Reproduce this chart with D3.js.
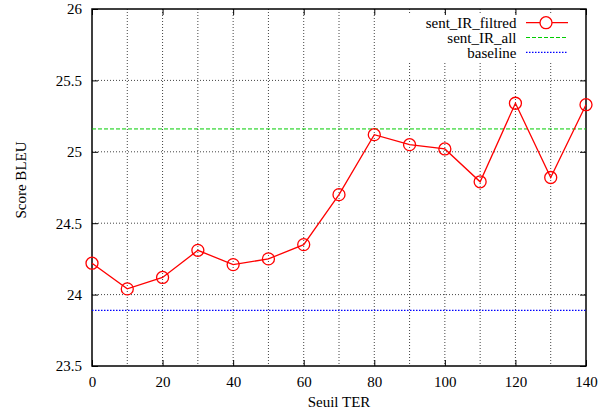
<!DOCTYPE html>
<html><head><meta charset="utf-8">
<script src="https://cdn.jsdelivr.net/npm/d3@7"></script>
<style>body{margin:0;background:#fff}</style>
</head><body><svg id="c" width="598" height="414"></svg>
<script>
const seuil = [0,10,20,30,40,50,60,70,80,90,100,110,120,130,140];
const filtred = [24.22,24.04,24.12,24.31,24.21,24.25,24.35,24.70,25.12,25.05,25.02,24.79,25.34,24.82,25.33];
const allValue = 25.16;
const baselineValue = 23.89;
const xTicks = [0,20,40,60,80,100,120,140];
const xGrid = [0,10,20,30,40,50,60,70,80,90,100,110,120,130,140];
const yTicks = [23.5,24,24.5,25,25.5,26];
const seriesNames = ["sent_IR_filtred","sent_IR_all","baseline"];

const FONT = "'Liberation Serif', 'Times New Roman', serif";
const svg = d3.select("#c").style("font-family",FONT);
const L=92,R=586,T=9,B=366;
const x = d3.scaleLinear().domain([0,140]).range([L,R]);
const y = d3.scaleLinear().domain([23.5,26]).range([B,T]);

// grid
const g = svg.append("g");
g.selectAll(".vg").data(xGrid.filter(d=>d>0&&d<140)).enter().append("line")
 .attr("x1",d=>x(d)).attr("x2",d=>x(d)).attr("y1",T).attr("y2",B)
 .attr("stroke","#444").attr("stroke-width",1).attr("stroke-dasharray","1,2");
g.selectAll(".hg").data(yTicks.filter(d=>d>23.5&&d<26)).enter().append("line")
 .attr("x1",L).attr("x2",R).attr("y1",d=>y(d)).attr("y2",d=>y(d))
 .attr("stroke","#444").attr("stroke-width",1).attr("stroke-dasharray","1,2");

// opaque legend area (covers grid)
svg.append("rect").attr("x",395).attr("y",13.5).attr("width",R-395).attr("height",47.5).attr("fill","#fff");

// axes
const xa = svg.append("g").attr("transform",`translate(0,${B})`)
 .call(d3.axisBottom(x).tickValues(xTicks).tickSize(-6).tickPadding(10.5).tickFormat(d3.format("d")));
const xt = svg.append("g").attr("transform",`translate(0,${T})`)
 .call(d3.axisTop(x).tickValues(xTicks).tickSize(-6).tickFormat(""));
const ya = svg.append("g").attr("transform",`translate(${L},0)`)
 .call(d3.axisLeft(y).tickValues(yTicks).tickSize(-6).tickPadding(10).tickFormat(d=>String(d)));
const yr = svg.append("g").attr("transform",`translate(${R},0)`)
 .call(d3.axisRight(y).tickValues(yTicks).tickSize(-6).tickFormat(""));
[xa,xt,ya,yr].forEach(a=>{a.select(".domain").remove();a.selectAll("line").attr("stroke","#000");
 a.attr("font-family",FONT).attr("font-size",15);
 a.selectAll("text").style("font-family",FONT).style("font-size","15px").attr("fill","#000");});

svg.append("rect").attr("x",L).attr("y",T).attr("width",R-L).attr("height",B-T)
 .attr("fill","none").attr("stroke","#000").attr("stroke-width",1.5);

// horizontal reference lines
svg.append("line").attr("x1",L).attr("x2",R).attr("y1",y(allValue)).attr("y2",y(allValue))
 .attr("stroke","#00cc00").attr("stroke-width",1).attr("stroke-dasharray","4,2");
svg.append("line").attr("x1",L).attr("x2",R).attr("y1",y(baselineValue)).attr("y2",y(baselineValue))
 .attr("stroke","#0000ff").attr("stroke-width",1.2).attr("stroke-dasharray","1.5,1.5");

// series
const pts = seuil.map((s,i)=>[s,filtred[i]]);
svg.append("path").datum(pts).attr("fill","none").attr("stroke","#ff0000").attr("stroke-width",1.3)
 .attr("d",d3.line().x(d=>x(d[0])).y(d=>y(d[1])));
svg.selectAll(".pt").data(pts).enter().append("circle")
 .attr("cx",d=>x(d[0])).attr("cy",d=>y(d[1])).attr("r",6)
 .attr("fill","none").attr("stroke","#ff0000").attr("stroke-width",1.3);

// legend
const lg = svg.append("g");
const rowsY=[22.7,37.5,52.3];
lg.selectAll("text").data(seriesNames).enter().append("text")
 .attr("x",516.5).attr("y",(d,i)=>rowsY[i]).attr("dy","0.35em").attr("text-anchor","end")
 .style("font-family",FONT).style("font-size","15px").attr("fill","#000").text(d=>d);
lg.append("line").attr("x1",526).attr("x2",568).attr("y1",rowsY[0]).attr("y2",rowsY[0]).attr("stroke","#ff0000").attr("stroke-width",1.3);
lg.append("circle").attr("cx",546).attr("cy",rowsY[0]).attr("r",6).attr("fill","#fff").attr("stroke","#ff0000").attr("stroke-width",1.3);
lg.append("line").attr("x1",526).attr("x2",568).attr("y1",rowsY[1]).attr("y2",rowsY[1]).attr("stroke","#00cc00").attr("stroke-width",1.2).attr("stroke-dasharray","4,2");
lg.append("line").attr("x1",526).attr("x2",568).attr("y1",rowsY[2]).attr("y2",rowsY[2]).attr("stroke","#0000ff").attr("stroke-width",1.2).attr("stroke-dasharray","1.5,1.5");

// axis titles
svg.append("text").attr("x",339).attr("y",407).attr("text-anchor","middle").style("font-family",FONT).style("font-size","15px").text("Seuil TER");
svg.append("text").attr("transform",`translate(26,180) rotate(-90)`).attr("text-anchor","middle").style("font-family",FONT).style("font-size","15px").text("Score BLEU");
</script></body></html>
